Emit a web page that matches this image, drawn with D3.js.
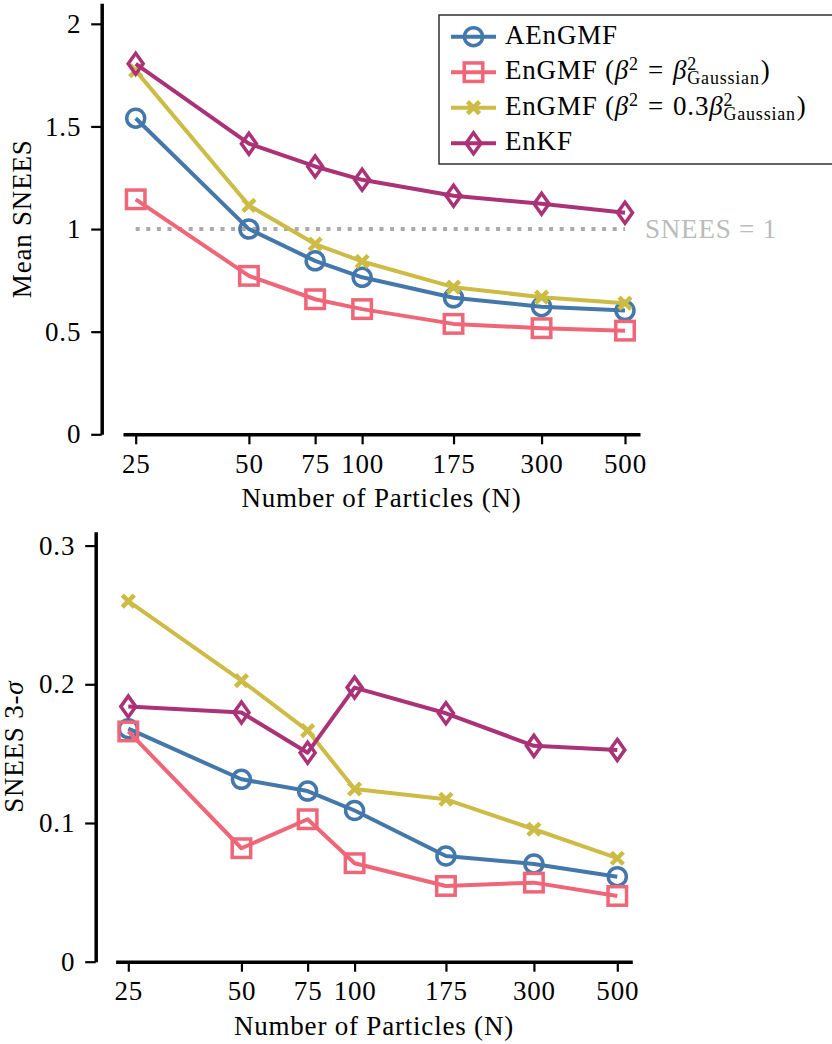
<!DOCTYPE html>
<meta charset="utf-8" />
<script src="https://d3js.org/d3.v7.js"></script>
<style>
	body { margin: 0; background: white; }
	svg text { font-family: "Liberation Serif", "DejaVu Serif", serif; letter-spacing: 0.8px; }
</style>
<div id="chart"></div>

<script>
	// Data
	const particles = [25, 50, 75, 100, 175, 300, 500];
	const tickLabels = ["25", "50", "75", "100", "175", "300", "500"];

	const meanAEnGMF = [1.54, 1.0, 0.845, 0.765, 0.665, 0.622, 0.603];
	const meanEnGMF = [1.145, 0.772, 0.658, 0.61, 0.538, 0.517, 0.505];
	const meanEnGMF03 = [1.772, 1.115, 0.927, 0.842, 0.717, 0.668, 0.639];
	const meanEnKF = [1.805, 1.416, 1.305, 1.24, 1.162, 1.123, 1.08];

	const sigmaAEnGMF = [0.168, 0.1315, 0.123, 0.109, 0.0762, 0.0705, 0.0613];
	const sigmaEnGMF = [0.166, 0.0818, 0.1027, 0.071, 0.0546, 0.057, 0.0474];
	const sigmaEnGMF03 = [0.26, 0.2027, 0.1666, 0.1245, 0.1171, 0.0955, 0.0746];
	const sigmaEnKF = [0.1839, 0.1796, 0.1507, 0.1976, 0.1791, 0.1556, 0.1527];

	const meanTicks = [0, 0.5, 1, 1.5, 2];
	const meanTickLabels = ["0", "0.5", "1", "1.5", "2"];
	const sigmaTicks = [0, 0.1, 0.2, 0.3];
	const sigmaTickLabels = ["0", "0.1", "0.2", "0.3"];

	const colors = ["#4477AA", "#EE6677", "#CCBB44", "#AA3377"];
	const markers = ["circle", "square", "cross", "diamond"];

	const W = 832, H = 1044;
	const svg = d3.select("#chart").append("svg")
		.attr("width", W).attr("height", H);

	function drawMarker(g, type, color) {
		if (type === "circle") {
			g.append("circle").attr("r", 9)
				.attr("fill", "none").attr("stroke", color).attr("stroke-width", 3.5);
		} else if (type === "square") {
			g.append("rect").attr("x", -9.25).attr("y", -9.25)
				.attr("width", 18.5).attr("height", 18.5)
				.attr("fill", "none").attr("stroke", color).attr("stroke-width", 3.5);
		} else if (type === "cross") {
			g.append("path").attr("d", "M-6,-6L6,6M-6,6L6,-6")
				.attr("fill", "none").attr("stroke", color).attr("stroke-width", 4.5);
		} else {
			g.append("path").attr("d", "M0,-10.5L7.5,0L0,10.5L-7.5,0Z")
				.attr("fill", "none").attr("stroke", color).attr("stroke-width", 3.5)
				.attr("stroke-linejoin", "miter");
		}
	}

	function drawPanel(opt) {
		const g = svg.append("g");

		const x = d3.scaleLog().domain([25, 500]).range([opt.x25, opt.x500]);
		const x0 = opt.x25 - 12.7, x1 = opt.x500 + 15;
		const xAxisScale = d3.scaleLog()
			.domain([x.invert(x0), x.invert(x1)]).range([x0, x1]);
		const y = d3.scaleLinear().domain([0, opt.yMax]).range([opt.bottom, opt.top]);

		// y axis (offset spine)
		const yAxis = d3.axisLeft(y)
			.tickValues(opt.yTicks)
			.tickFormat((d, i) => opt.yTickLabels[i])
			.tickSizeOuter(0).tickSizeInner(10.5).tickPadding(10);
		const gy = g.append("g")
			.attr("transform", "translate(" + opt.axisX + ",0)")
			.call(yAxis);

		// x axis
		const xAxis = d3.axisBottom(xAxisScale)
			.tickValues(particles)
			.tickFormat((d, i) => tickLabels[i])
			.tickSizeOuter(0).tickSizeInner(10).tickPadding(9.5);
		const gx = g.append("g")
			.attr("transform", "translate(0," + opt.bottom + ")")
			.call(xAxis);

		[gx, gy].forEach(a => {
			a.select(".domain").attr("stroke", "#000").attr("stroke-width", 3.5);
			a.selectAll(".tick line").attr("stroke", "#000").attr("stroke-width", 2.2);
			a.selectAll(".tick text").attr("fill", "#000")
				.style("font-family", '"Liberation Serif", serif')
				.style("font-size", "27px");
		});

		// axis labels
		g.append("text")
			.attr("x", (x0 + x1) / 2)
			.attr("y", opt.bottom + 73)
			.attr("text-anchor", "middle")
			.style("font-size", "27px")
			.text("Number of Particles (N)");

		const yl = g.append("text")
			.attr("transform", "translate(" + opt.yLabelX + "," + (opt.top + opt.bottom) / 2 + ") rotate(-90)")
			.attr("text-anchor", "middle")
			.style("font-size", "27px");
		yl.text(opt.yLabel);
		if (opt.yLabelItalic) {
			yl.append("tspan").style("font-style", "italic").text(opt.yLabelItalic);
		}

		if (opt.refLine) {
			g.append("line")
				.attr("x1", x(25)).attr("x2", x(500))
				.attr("y1", y(1)).attr("y2", y(1))
				.attr("stroke", "#aaaaaa").attr("stroke-width", 4)
				.attr("stroke-dasharray", "4,6.6");
			g.append("text")
				.attr("x", x(500) + 20).attr("y", y(1) + 9)
				.attr("fill", "#bbbbbb")
				.style("font-size", "27px")
				.text("SNEES = 1");
		}

		const line = d3.line().x((d, i) => x(particles[i])).y(d => y(d));

		opt.series.forEach((vals, k) => {
			g.append("path")
				.attr("d", line(vals))
				.attr("fill", "none")
				.attr("stroke", colors[k])
				.attr("stroke-width", 4)
				.attr("stroke-linejoin", "round");
			vals.forEach((v, i) => {
				const m = g.append("g")
					.attr("transform", "translate(" + x(particles[i]) + "," + y(v) + ")");
				drawMarker(m, markers[k], colors[k]);
			});
		});
		return g;
	}

	drawPanel({
		axisX: 101.7, x25: 135.7, x500: 625,
		top: 3.3, bottom: 434.3, yMax: 2.1,
		yTicks: meanTicks, yTickLabels: meanTickLabels,
		yLabel: "Mean SNEES", yLabelX: 31,
		series: [meanAEnGMF, meanEnGMF, meanEnGMF03, meanEnKF],
		refLine: true
	});

	drawPanel({
		axisX: 95.7, x25: 128.3, x500: 617.3,
		top: 531.7, bottom: 961.7, yMax: 0.31,
		yTicks: sigmaTicks, yTickLabels: sigmaTickLabels,
		yLabel: "SNEES 3-", yLabelItalic: "σ", yLabelX: 23,
		series: [sigmaAEnGMF, sigmaEnGMF, sigmaEnGMF03, sigmaEnKF]
	});

	// Legend
	const legendRows = [
		[{ t: "AEnGMF" }],
		[{ t: "EnGMF (" }, { t: "β", it: true }, { t: "2", sup: true }, { t: " = ", wide: true },
		 { t: "β", it: true }, { t: "2", sup: true }, { t: "Gaussian", sub: true, stack: true }, { t: ")" }],
		[{ t: "EnGMF (" }, { t: "β", it: true }, { t: "2", sup: true }, { t: " = ", wide: true }, { t: "0.3" },
		 { t: "β", it: true }, { t: "2", sup: true }, { t: "Gaussian", sub: true, stack: true }, { t: ")" }],
		[{ t: "EnKF" }]
	];

	const legend = svg.append("g");
	legend.append("rect")
		.attr("x", 439).attr("y", 15).attr("width", 400).attr("height", 149)
		.attr("fill", "white").attr("stroke", "#222").attr("stroke-width", 1.4);

	legendRows.forEach((pieces, k) => {
		const cy = 36.7 + k * 35.5;
		const row = legend.append("g");
		row.append("line")
			.attr("x1", 451).attr("x2", 496).attr("y1", cy).attr("y2", cy)
			.attr("stroke", colors[k]).attr("stroke-width", 4);
		drawMarker(row.append("g").attr("transform", "translate(473.5," + cy + ")"), markers[k], colors[k]);

		// one text element per row, sub/superscripts as shifted tspans
		const text = row.append("text")
			.attr("x", 505).attr("y", cy + 7)
			.attr("xml:space", "preserve")
			.style("font-size", "27px")
			.style("white-space", "pre");
		let shift = 0, lastW = 0;
		pieces.forEach(p => {
			const target = p.sup ? -9 : p.sub ? 5 : 0;
			const ts = text.append("tspan")
				.attr("dy", target - shift)
				.style("font-size", (p.sup || p.sub) ? "18px" : "27px")
				.style("font-style", p.it ? "italic" : "normal")
				.text(p.t);
			if (p.stack) ts.attr("dx", -lastW);
			else if (p.wide) ts.style("word-spacing", "1.5px");
			else if (!p.sup && shift !== 0) ts.attr("dx", 1);
			shift = target;
			lastW = ts.node().getComputedTextLength();
		});
	});
</script>
